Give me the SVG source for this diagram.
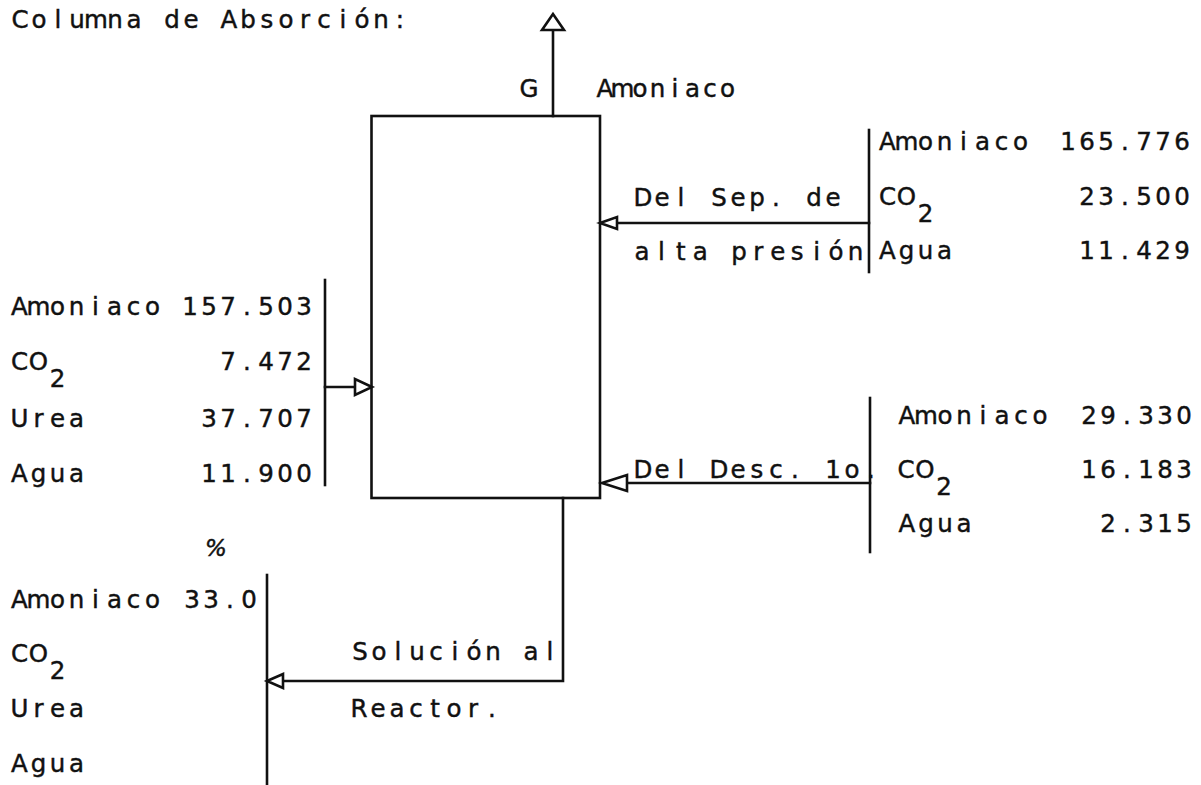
<svg xmlns="http://www.w3.org/2000/svg" width="1201" height="785" viewBox="0 0 1201 785">
<style>
text{font-family:"DejaVu Sans","Liberation Sans",sans-serif;font-size:24.5px;fill:#111;stroke:#111;stroke-width:0.45;text-anchor:middle}
.pc{font-style:italic;font-size:23px}
.ln{stroke:#111;stroke-width:2.6;fill:none;stroke-linecap:square}
.hd{stroke:#111;stroke-width:2.6;fill:#fff;stroke-linejoin:miter}
</style>
<rect width="1201" height="785" fill="#fff"/>
<g id="title">
<text x="20 39 58 77 96 115 134 153 172 191 210 229 248 267 286 305 324 343 362 381 400" y="28">Columna de Absorción:</text>
</g>
<g id="column">
<rect class="ln" x="371.5" y="116" width="228.5" height="382"/>
</g>
<g id="gas-out">
<text x="529" y="97">G</text>
<text x="605 622.5 640 657.5 675 692.5 710 727.5" y="97">Amoniaco</text>
</g>
<g id="feed-sep">
<line class="ln" x1="869" y1="130" x2="869" y2="272"/>
<text x="887.5 906.5 925.5 944.5 963.5 982.5 1001.5 1020.5" y="150">Amoniaco</text>
<text x="1068 1087 1106 1125 1144 1163 1182" y="150">165.776</text>
<text x="887.5 906.5" y="205">CO</text>
<text x="925.5" y="222">2</text>
<text x="1087 1106 1125 1144 1163 1182" y="205">23.500</text>
<text x="887.5 906.5 925.5 944.5" y="259">Agua</text>
<text x="1087 1106 1125 1144 1163 1182" y="259">11.429</text>
<text x="643 662 681 700 719 738 757 776 795 814 833" y="206">Del Sep. de</text>
<text x="642 661.4 680.8 700.2 719.6 739 758.4 777.8 797.2 816.6 836 855.4" y="260">alta presión</text>
</g>
<g id="feed-left">
<line class="ln" x1="325" y1="280" x2="325" y2="485"/>
<text x="19.5 38.5 57.5 76.5 95.5 114.5 133.5 152.5" y="315">Amoniaco</text>
<text x="190 209 228 247 266 285 304" y="315">157.503</text>
<text x="19.5 38.5" y="370">CO</text>
<text x="57.5" y="387">2</text>
<text x="228 247 266 285 304" y="370">7.472</text>
<text x="19.5 38.5 57.5 76.5" y="427">Urea</text>
<text x="209 228 247 266 285 304" y="427">37.707</text>
<text x="19.5 38.5 57.5 76.5" y="482">Agua</text>
<text x="209 228 247 266 285 304" y="482">11.900</text>
</g>
<g id="feed-desc">
<line class="ln" x1="870" y1="398" x2="870" y2="552"/>
<text x="907 926 945 964 983 1002 1021 1040" y="424">Amoniaco</text>
<text x="1089 1108 1127 1146 1165 1184" y="424">29.330</text>
<text x="906 925" y="478">CO</text>
<text x="944" y="495">2</text>
<text x="1089 1108 1127 1146 1165 1184" y="478">16.183</text>
<text x="907 926 945 964" y="532">Agua</text>
<text x="1108 1127 1146 1165 1184" y="532">2.315</text>
<text x="643 662 681 700 719 738 757 776 795 814 833 852 871" y="478">Del Desc. 1o.</text>
</g>
<g id="product">
<line class="ln" x1="267" y1="575" x2="267" y2="785"/>
<text class="pc" x="216" y="556">%</text>
<text x="19.5 38.5 57.5 76.5 95.5 114.5 133.5 152.5" y="608">Amoniaco</text>
<text x="192 211 230 249" y="608">33.0</text>
<text x="19.5 38.5" y="662">CO</text>
<text x="57.5" y="679">2</text>
<text x="19.5 38.5 57.5 76.5" y="717">Urea</text>
<text x="19.5 38.5 57.5 76.5" y="772">Agua</text>
<text x="360 379 398 417 436 455 474 493 512 531 550" y="660">Solución al</text>
<text x="359 378 397 416 435 454 473 492" y="717">Reactor.</text>
</g>
<g id="connectors">
<line class="ln" x1="553" y1="116" x2="553" y2="30"/>
<polygon class="hd" points="553,14 542,30 564,30"/>
<line class="ln" x1="325" y1="387" x2="355" y2="387"/>
<polygon class="hd" points="372,387 355,379 355,395"/>
<line class="ln" x1="869" y1="223" x2="617" y2="223"/>
<polygon class="hd" points="600,223 617,217 617,229"/>
<line class="ln" x1="870" y1="483" x2="627" y2="483"/>
<polygon class="hd" points="602,483 627,475 627,491"/>
<polyline class="ln" points="563,498 563,681 283,681"/>
<polygon class="hd" points="267,681 283,674 283,688"/>
</g>
</svg>
